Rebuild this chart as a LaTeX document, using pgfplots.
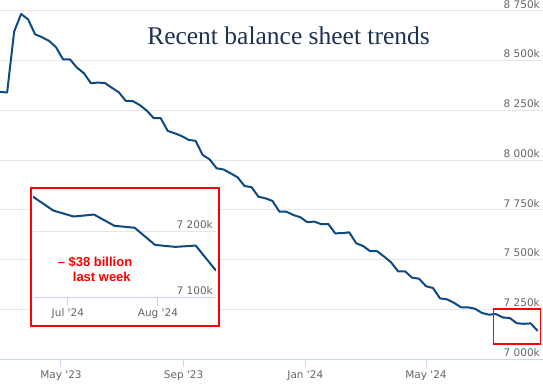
\documentclass[border=0pt]{standalone}
\usepackage{fontspec}
\usepackage{pgfplots}
\pgfplotsset{compat=1.18}
\setmainfont{DejaVu Sans}
\newfontfamily\titlefont{Liberation Serif}
\newfontfamily\annfont{Liberation Sans}
\definecolor{linec}{HTML}{0D4A85}
\definecolor{gridc}{HTML}{E6E6E6}
\definecolor{axisc}{HTML}{CCD6EB}
\definecolor{tickc}{HTML}{666666}
\definecolor{titlec}{HTML}{1F3050}

\pgfplotstableread{
day value
0 8344
7 8340
14 8646
21 8735
28 8708
35 8633
42 8618
49 8600
56 8568
63 8507
70 8507
77 8465
84 8437
91 8387
98 8390
105 8388
112 8364
119 8341
126 8298
133 8297
140 8277
147 8249
154 8211
161 8211
168 8147
175 8135
182 8121
189 8102
196 8097
203 8026
210 8004
217 7959
224 7953
231 7934
238 7914
245 7870
252 7864
259 7816
266 7808
273 7795
280 7741
287 7741
294 7724
301 7713
308 7688
315 7691
322 7678
329 7679
336 7632
343 7633
350 7637
357 7582
364 7568
371 7542
378 7542
385 7515
392 7486
399 7441
406 7441
413 7409
420 7404
427 7366
434 7357
441 7305
448 7300
455 7283
462 7260
469 7260
476 7253
483 7232
490 7223
497 7226
504 7209
511 7206
518 7180
525 7177
532 7179
539 7141
}\balance

\begin{document}
\begin{tikzpicture}
\useasboundingbox (0pt,0pt) rectangle (543pt,384pt);
\pgfplotsset{
  hc/.style={
    scale only axis,
    axis x line*=bottom, axis y line*=right,
    x axis line style={draw=axisc, line width=1pt},
    y axis line style={draw=none},
    ymajorgrids, grid style={gridc, line width=1pt},
    tick align=outside, major tick length=8pt,
    xtick style={draw=axisc, line width=1pt},
    ytick style={draw=none},
    ticklabel style={font=\fontsize{10.5}{12}\selectfont, text=tickc},
    xticklabel style={anchor=north, inner sep=0pt, yshift=-3pt},
    yticklabel style={anchor=south east, inner sep=0pt, xshift=-11pt, yshift=2.5pt},
  }
}
\begin{axis}[hc,
  at={(0pt,25pt)}, anchor=south west,
  width=543pt, height=359pt,
  xmin=-0.16, xmax=544.3, ymin=7000, ymax=8805.3,
  xtick={61,184,306,427},
  xticklabels={May \textquotesingle23, Sep \textquotesingle23, Jan \textquotesingle24, May \textquotesingle24},
  ytick={7000,7250,7500,7750,8000,8250,8500,8750},
  yticklabels={7 000k,7 250k,7 500k,7 750k,8 000k,8 250k,8 500k,8 750k},
  clip=false,
]
\addplot[linec, line width=2pt, line join=round] table[x=day, y=value] {\balance};
\draw[red, line width=1.3pt] (axis cs:495,7075) rectangle (axis cs:542,7252);
\end{axis}

\node[font=\titlefont\fontsize{25.5}{28}\selectfont, text=titlec, anchor=base] at (288.5pt,340pt) {Recent balance sheet trends};

\draw[red, line width=1.3pt, fill=white] (31pt,58pt) rectangle (219pt,196pt);

\begin{axis}[hc,
  at={(33pt,86.3pt)}, anchor=south west,
  width=183pt, height=105.6pt,
  xmin=476, xmax=539, ymin=7100, ymax=7260,
  xtick={488,519},
  xticklabels={Jul \textquotesingle24, Aug \textquotesingle24},
  ytick={7100,7200},
  yticklabels={7 100k,7 200k},
]
\addplot[linec, line width=2pt, line join=round] table[x=day, y=value] {\balance};
\end{axis}

\node[font=\annfont\bfseries\fontsize{13}{15}\selectfont, text=red, anchor=base] at (95pt,118pt) {– \$38 billion};
\node[font=\annfont\bfseries\fontsize{13}{15}\selectfont, text=red, anchor=base] at (101.8pt,102.3pt) {last week};
\end{tikzpicture}
\end{document}
